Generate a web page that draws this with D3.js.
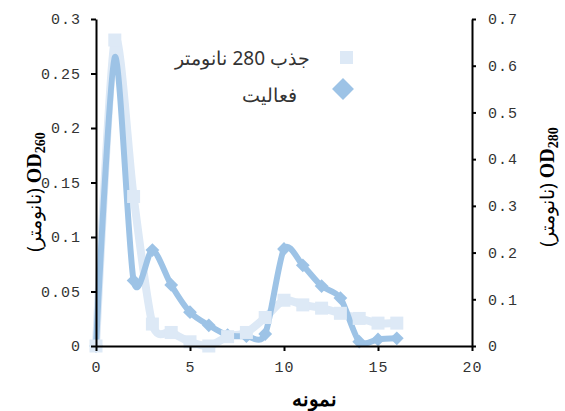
<!DOCTYPE html>
<html>
<head>
<meta charset="utf-8">
<script src="https://cdn.jsdelivr.net/npm/d3@7"></script>
<style>
  html, body { margin: 0; padding: 0; background: #fff; }
  svg { display: block; }
  .tick text { font-family: "Liberation Mono", monospace; font-size: 15px; fill: #333; letter-spacing: 1px; }
</style>
</head>
<body>
<svg id="chart" width="565" height="411"></svg>
<script>
// Fraction numbers along the x axis
const samples = [0, 1, 2, 3, 4, 5, 6, 7, 8, 9, 10, 11, 12, 13, 14, 15, 16];
// Absorbance at 280 nm (right axis)
const absorbance280 = [0, 0.655, 0.32, 0.047, 0.029, 0.009, 0.0, 0.02, 0.029, 0.061, 0.098, 0.088, 0.081, 0.07, 0.059, 0.049, 0.049];
// Activity (left axis)
const activity = [0, 0.265, 0.06, 0.088, 0.056, 0.031, 0.019, 0.010, 0.009, 0.011, 0.089, 0.074, 0.055, 0.044, 0.004, 0.006, 0.007];
// Activity points drawn without a marker
const activityNoMarker = [1];

const xTicks = [0, 5, 10, 15, 20];
const leftTicks = [0, 0.05, 0.1, 0.15, 0.2, 0.25, 0.3];
const rightTicks = [0, 0.1, 0.2, 0.3, 0.4, 0.5, 0.6, 0.7];

const seriesNames = ["جذب 280 نانومتر", "فعالیت"];
const xTitle = "نمونه";
const unitText = "(نانومتر)";

const colorLight = "#dde9f6";
const colorDark = "#9dc3e6";

const svg = d3.select("#chart");
const plot = { left: 96, right: 472, top: 19, bottom: 346 };

const x = d3.scaleLinear().domain([0, 20]).range([plot.left, plot.right]);
const yL = d3.scaleLinear().domain([0, 0.3]).range([plot.bottom, plot.top]);
const yR = d3.scaleLinear().domain([0, 0.7]).range([plot.bottom, plot.top]);

const smooth = d3.curveCardinal.tension(0.2);

const lineLayer = svg.append("g");
const markerLayer = svg.append("g");

// Absorbance series: thick pale line with square markers
const lightLine = d3.line().x((d, i) => x(samples[i])).y(d => yR(d)).curve(smooth);
// Activity series: medium blue line with diamond markers
const darkLine = d3.line().x((d, i) => x(samples[i])).y(d => yL(d)).curve(smooth);

lineLayer.append("path").datum(absorbance280)
  .attr("d", lightLine)
  .attr("fill", "none").attr("stroke", colorLight)
  .attr("stroke-width", 8).attr("stroke-linejoin", "round");
lineLayer.append("path").datum(activity)
  .attr("d", darkLine)
  .attr("fill", "none").attr("stroke", colorDark)
  .attr("stroke-width", 6).attr("stroke-linejoin", "round");

const diamond = d3.symbol().type(d3.symbolSquare).size(95);
markerLayer.append("g").selectAll("path")
  .data(activity.map((v, i) => ({ v, i })).filter(d => !activityNoMarker.includes(d.i)))
  .join("path")
  .attr("d", diamond)
  .attr("transform", d => `translate(${x(samples[d.i])},${yL(d.v)}) rotate(45)`)
  .attr("fill", colorDark);
markerLayer.append("g").selectAll("rect").data(absorbance280).join("rect")
  .attr("x", (d, i) => x(samples[i]) - 6.5)
  .attr("y", d => yR(d) - 6.5)
  .attr("width", 13).attr("height", 13)
  .attr("fill", colorLight);

// Axes
const axisStyle = g => {
  g.selectAll(".domain").attr("stroke", "#000").attr("stroke-width", 2);
  g.selectAll(".tick line").attr("stroke", "#000").attr("stroke-width", 2);
};
svg.append("g").attr("transform", `translate(0,${plot.bottom})`)
  .call(d3.axisBottom(x).tickValues(xTicks).tickSize(5).tickSizeOuter(0).tickFormat(d3.format("d")))
  .call(axisStyle)
  .call(g => g.selectAll(".tick text").attr("dy", "0.95em").attr("y", 12));
svg.append("g").attr("transform", `translate(${plot.left},0)`)
  .call(d3.axisLeft(yL).tickValues(leftTicks).tickSize(5).tickSizeOuter(0).tickFormat(d => d === 0 ? "0" : String(d)))
  .call(axisStyle)
  .call(g => g.selectAll(".tick text").attr("x", -15));
svg.append("g").attr("transform", `translate(${plot.right},0)`)
  .call(d3.axisRight(yR).tickValues(rightTicks).tickSize(4).tickSizeOuter(0).tickFormat(d => d === 0 ? "0" : String(d)))
  .call(axisStyle)
  .call(g => g.selectAll(".tick text").attr("x", 16));

// Axis titles
function yTitle(cx, cy, sub) {
  const t = svg.append("text")
    .attr("transform", `translate(${cx},${cy}) rotate(-90)`)
    .attr("text-anchor", "middle").attr("fill", "#000");
  t.append("tspan").attr("font-family", "Noto Sans").attr("font-size", 19).text(unitText + " ");
  t.append("tspan").attr("font-family", "Liberation Serif").attr("font-weight", "bold").attr("font-size", 20).text("OD");
  t.append("tspan").attr("font-family", "Liberation Serif").attr("font-weight", "bold").attr("font-size", 14).attr("dy", 4).text(sub);
}
yTitle(41, 192, "260");
yTitle(554, 187, "280");

svg.append("text")
  .attr("x", 314).attr("y", 406)
  .attr("text-anchor", "middle")
  .attr("font-family", "Noto Sans").attr("font-weight", "bold").attr("font-size", 20)
  .attr("fill", "#000").text(xTitle);

// Legend
const legendRight = [310, 297];
const legend = svg.append("g");
legend.append("rect").attr("x", 340).attr("y", 51).attr("width", 13).attr("height", 13).attr("fill", colorLight);
legend.append("path").attr("d", d3.symbol().type(d3.symbolSquare).size(240)())
  .attr("transform", "translate(343,89) rotate(45)").attr("fill", colorDark);
legend.selectAll("text").data(seriesNames).join("text")
  .attr("x", (d, i) => legendRight[i]).attr("y", (d, i) => 65 + i * 37)
  .attr("text-anchor", "end")
  .attr("font-family", "Noto Sans").attr("font-size", 19).attr("fill", "#333")
  .text(d => d);
</script>
</body>
</html>
